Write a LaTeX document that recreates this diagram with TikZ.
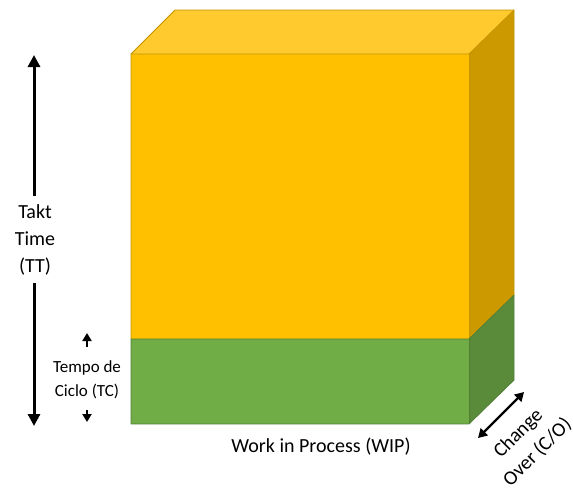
\documentclass[tikz,border=0pt]{standalone}
\usepackage{fontspec}
\setmainfont{Carlito}
\usetikzlibrary{arrows.meta}
\definecolor{yfront}{HTML}{FFC000}
\definecolor{ytop}{HTML}{FFCA2E}
\definecolor{yside}{HTML}{CC9A00}
\definecolor{yedge}{HTML}{C49300}
\definecolor{gfront}{HTML}{70AD47}
\definecolor{gside}{HTML}{5A8B3A}
\definecolor{gedge}{HTML}{507E32}
\tikzset{
  yface/.style={draw=yedge, line width=0.8pt, line join=round},
  gface/.style={draw=gedge, line width=0.8pt, line join=round},
  lbl/.style={font=\fontsize{20}{27}\selectfont, align=center, inner sep=1pt},
  bigarrow/.style={line width=3pt, -{Triangle[length=12pt,width=12pt]}},
  smallhead/.style={line width=2pt, -{Triangle[length=8pt,width=9pt]}},
}
\begin{document}
\begin{tikzpicture}[x=1pt,y=-1pt]
\useasboundingbox (0,0) rectangle (573,488);
% faces
\fill[yfront] (131,54) rectangle (469,339);
\fill[ytop] (131,54) -- (175,10) -- (514,10) -- (469,54) -- cycle;
\fill[yside] (469,54) -- (514,10) -- (514,295) -- (469,339) -- cycle;
\fill[gfront] (131,339) rectangle (469,424);
\fill[gside] (469,339) -- (514,295) -- (514,380) -- (469,424) -- cycle;
\draw[yface] (131,339) -- (131,54) -- (175,10) -- (514,10) -- (514,295);
\draw[yface] (131,54) -- (469,54) -- (514,10);
\draw[yface] (469,54) -- (469,339);
\draw[gface] (131,339) -- (469,339) -- (514,295);
\draw[gface] (514,295) -- (514,380) -- (469,424) -- (131,424) -- (131,339);
\draw[gface] (469,339) -- (469,424);
% labels
\node[lbl] (tt) at (35,240) {Takt\\Time\\(TT)};
\coordinate (tttop) at (34,55);
\coordinate (ttbot) at (34,426);
\draw[bigarrow] (34,196) -- (tttop);
\draw[bigarrow] (34,283) -- (ttbot);
\node[lbl, font=\fontsize{17}{24}\selectfont] (tc) at (87,380) {Tempo de\\Ciclo (TC)};
\coordinate (tctop) at (87,333);
\coordinate (tcbot) at (87,422);
\draw[smallhead] (87,347) -- (tctop);
\draw[smallhead] (87,410) -- (tcbot);
\node[lbl] (wip) at (321,447) {Work in Process (WIP)};
\coordinate (coa) at (478,438);
\coordinate (cob) at (524,392);
\draw[line width=2.2pt, {Triangle[length=9pt,width=10pt]}-{Triangle[length=9pt,width=10pt]}] (coa) -- (cob);
\node[lbl, rotate=45, font=\fontsize{20}{27}\selectfont] (co) at (528,443) {Change\\Over (C/O)};
\end{tikzpicture}
\end{document}
